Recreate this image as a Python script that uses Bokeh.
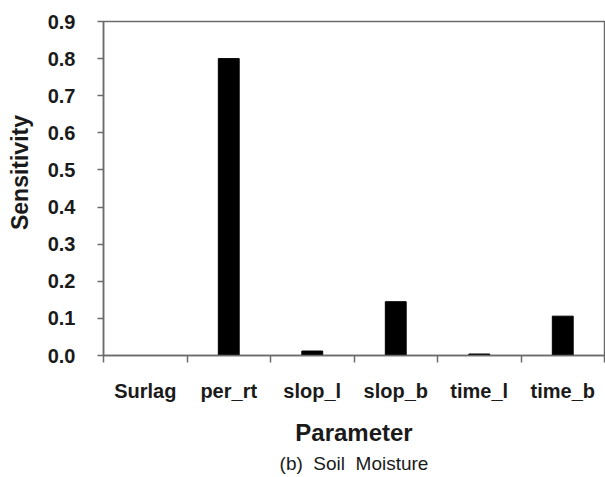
from bokeh.plotting import figure
from bokeh.models import Range1d, FixedTicker, Title, NumeralTickFormatter
from bokeh.embed import file_html
from bokeh.resources import INLINE

parameters = ["Surlag", "per_rt", "slop_l", "slop_b", "time_l", "time_b"]
sensitivity = [0.0, 0.80, 0.012, 0.145, 0.004, 0.106]
y_ticks = [0.0, 0.1, 0.2, 0.3, 0.4, 0.5, 0.6, 0.7, 0.8, 0.9]
caption = "(b)\u00a0\u00a0Soil\u00a0\u00a0Moisture"
y_title = "Sensitivity"
x_title = "Parameter"

FONT = "Liberation Sans"
AXIS_COLOR = "#6b6b6b"
TEXT_COLOR = "#1a1a1a"

x_pos = [i + 0.5 for i in range(len(parameters))]

p = figure(width=605, height=477, output_backend="svg", toolbar_location=None,
           x_range=Range1d(0, len(parameters)), y_range=Range1d(0, 0.9),
           min_border_left=103, min_border_right=1, min_border_top=21,
           min_border_bottom=122)

p.vbar(x=x_pos, top=sensitivity, width=0.25, fill_color="black",
       line_color="black")

p.grid.visible = False
p.outline_line_color = AXIS_COLOR
p.outline_line_width = 1.5

# y axis
ya = p.yaxis[0]
ya.ticker = FixedTicker(ticks=y_ticks)
ya.formatter = NumeralTickFormatter(format="0.0")
ya.axis_line_color = AXIS_COLOR
ya.axis_line_width = 1.5
ya.major_tick_line_color = AXIS_COLOR
ya.major_tick_line_width = 1.5
ya.major_tick_in = 0
ya.major_tick_out = 6
ya.minor_tick_line_color = None
ya.major_label_standoff = 22
ya.major_label_text_font = FONT
ya.major_label_text_font_style = "bold"
ya.major_label_text_font_size = "20px"
ya.major_label_text_color = TEXT_COLOR
# leading non-breaking spaces nudge the rotated title upward, as in the reference
ya.axis_label = "\u00a0" * 5 + y_title
ya.axis_label_text_font = FONT
ya.axis_label_text_font_style = "bold"
ya.axis_label_text_font_size = "23px"
ya.axis_label_text_color = TEXT_COLOR
ya.axis_label_standoff = 12

# x axis
xa = p.xaxis[0]
xa.ticker = FixedTicker(ticks=x_pos, minor_ticks=list(range(len(parameters) + 1)))
xa.major_label_overrides = {x: name for x, name in zip(x_pos, parameters)}
xa.axis_line_color = AXIS_COLOR
xa.axis_line_width = 1.5
xa.major_tick_line_color = None
xa.major_tick_in = 0
xa.major_tick_out = 0
xa.minor_tick_line_color = AXIS_COLOR
xa.minor_tick_line_width = 1.5
xa.minor_tick_in = 0
xa.minor_tick_out = 7
xa.major_label_standoff = 17
xa.major_label_text_font = FONT
xa.major_label_text_font_style = "bold"
xa.major_label_text_font_size = "20px"
xa.major_label_text_color = TEXT_COLOR
xa.axis_label = x_title
xa.axis_label_text_font = FONT
xa.axis_label_text_font_style = "bold"
xa.axis_label_text_font_size = "24px"
xa.axis_label_text_color = TEXT_COLOR
xa.axis_label_standoff = 14

t = Title(text=caption, align="center", text_font=FONT,
          text_font_style="normal", text_font_size="19px",
          text_color=TEXT_COLOR, standoff=5)
p.add_layout(t, "below")

open("out.html", "w").write(file_html(p, INLINE))
